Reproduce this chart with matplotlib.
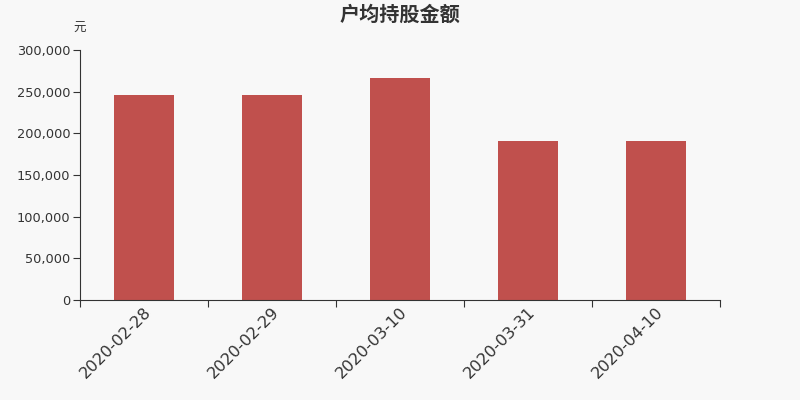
import matplotlib.pyplot as plt
import matplotlib.transforms as mtransforms
import numpy as np

plt.rcParams['font.family'] = ['Noto Sans CJK SC', 'DejaVu Sans']

dates = ['2020-02-28', '2020-02-29', '2020-03-10', '2020-03-31', '2020-04-10']
avg_amount = [246000, 245700, 266400, 191100, 190400]

bg = '#f8f8f8'
fig = plt.figure(figsize=(8, 4), dpi=100, facecolor=bg)
ax = fig.add_axes([0.1, 0.25, 0.8, 0.625], facecolor=bg)

x = np.arange(len(dates))
ax.bar(x, avg_amount, width=0.47, color='#c0504d')

ax.set_xlim(-0.5, len(dates) - 0.5)
ax.set_ylim(0, 300000)
ax.set_yticks(range(0, 300001, 50000))
ax.set_yticklabels([f'{v:,}' for v in range(0, 300001, 50000)], fontsize=9.3, color='#333333',
                   family='DejaVu Sans')

# ticks on band edges, labels in band centers
ax.set_xticks(np.arange(-0.5, len(dates), 1.0))
ax.set_xticklabels([])
ax.set_xticks(x, minor=True)
ax.set_xticklabels(dates, minor=True, rotation=45, ha='right', rotation_mode='anchor',
                   fontsize=11.6, color='#333333', family='DejaVu Sans')
shift = mtransforms.ScaledTranslation(-4 / 100, 0, fig.dpi_scale_trans)
for lbl in ax.get_xticklabels(minor=True):
    lbl.set_transform(lbl.get_transform() + shift)
ax.tick_params(axis='x', which='minor', length=0, pad=3)
ax.tick_params(axis='x', which='major', length=5, color='#333333')
ax.tick_params(axis='y', length=5, color='#333333', pad=2)

for s in ['top', 'right']:
    ax.spines[s].set_visible(False)
for s in ['left', 'bottom']:
    ax.spines[s].set_color('#333333')

fig.text(0.5, 0.965, '户均持股金额', ha='center', va='center', fontsize=14.5,
         fontweight='bold', color='#333333')
fig.text(0.1, 0.93, '元', ha='center', va='center', fontsize=9, color='#333333')

fig.savefig('out.png', dpi=100, facecolor=bg)
